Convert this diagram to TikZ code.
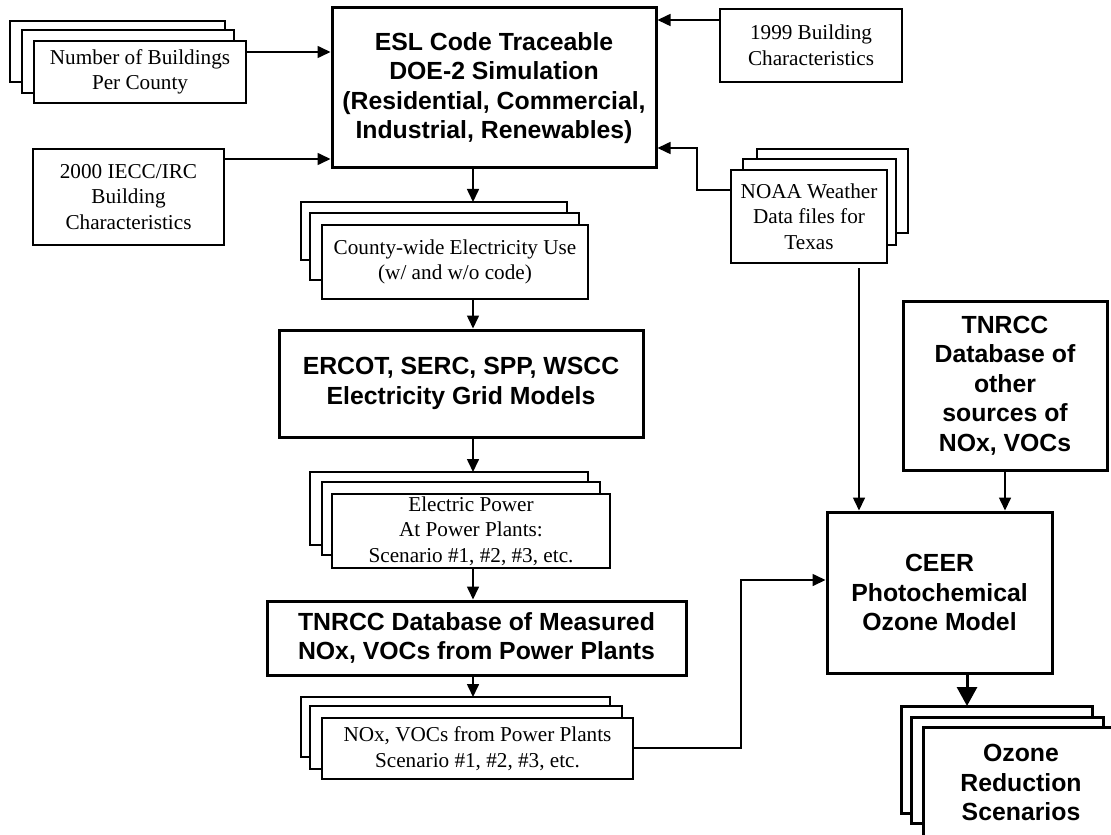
\documentclass[tikz,border=0pt]{standalone}
\usepackage{fontspec}
\setmainfont{Liberation Serif}
\setsansfont{Liberation Sans}
\usetikzlibrary{arrows.meta}

\begin{document}
\begin{tikzpicture}[x=0.5pt,y=-0.5pt,
    box/.style={draw,line width=0.8pt,fill=white,align=center,inner sep=0pt,
        font=\fontsize{10.6}{12.8}\selectfont},
    bigbox/.style={draw,line width=1.5pt,fill=white,align=center,inner sep=0pt,
        font=\sffamily\bfseries\fontsize{12.4}{14.8}\selectfont},
    card/.style={draw,line width=0.8pt,fill=white},
    bigcard/.style={draw,line width=1.5pt,fill=white},
    arr/.style={line width=0.8pt,-{Triangle[length=6.5pt,width=6pt]}},
    bigarr/.style={line width=1.5pt,-{Triangle[length=9.5pt,width=10pt]}}]
    \useasboundingbox (0,0) rectangle (1111,834);

    % stacked copies behind the front boxes
    \draw[card] (10,21) rectangle (225,82);
    \draw[card] (22,30) rectangle (234,93);
    \draw[card] (757,149) rectangle (908,233);
    \draw[card] (743,159) rectangle (896,245);
    \draw[card] (301,202) rectangle (567,260);
    \draw[card] (310,213) rectangle (579,280);
    \draw[card] (310,472) rectangle (588,545);
    \draw[card] (322,482) rectangle (600,555);
    \draw[card] (301,697) rectangle (610,757);
    \draw[card] (310,706) rectangle (622,769);
    \draw[bigcard] (901,706) rectangle (1092,813);
    \draw[bigcard] (911,717) rectangle (1103,823);

    \node[bigbox,minimum width=162pt,minimum height=80pt] (esl) at (494,88)
        {ESL Code Traceable\\DOE-2 Simulation\\(Residential, Commercial,\\Industrial, Renewables)};
    \node[box,minimum width=106pt,minimum height=31pt] (num) at (140,72)
        {Number of Buildings\\Per County};
    \node[box,minimum width=95.5pt,minimum height=48pt] (iecc) at (128.5,197)
        {2000 IECC/IRC\\Building\\Characteristics};
    \node[box,minimum width=91pt,minimum height=36.5pt] (bld) at (811,45.5)
        {1999 Building\\Characteristics};
    \node[box,minimum width=78pt,minimum height=46.5pt] (noaa) at (809,216.5)
        {NOAA Weather\\Data files for\\Texas};
    \node[box,minimum width=133pt,minimum height=37pt] (county) at (455,262)
        {County-wide Electricity Use\\(w/ and w/o code)};
    \node[bigbox,minimum width=182pt,minimum height=53.5pt] (ercot) at (461,383.5)
        {ERCOT, SERC, SPP, WSCC\\Electricity Grid Models};
    \node[box,minimum width=139pt,minimum height=37pt] (elec) at (471,531)
        {Electric Power\\At Power Plants:\\Scenario \#1, \#2, \#3, etc.};
    \node[bigbox,minimum width=209.5pt,minimum height=37pt] (tnrcc) at (476.5,638)
        {TNRCC Database of Measured\\NOx, VOCs from Power Plants};
    \node[box,minimum width=155.5pt,minimum height=30.5pt] (nox) at (477.5,748.5)
        {NOx, VOCs from Power Plants\\Scenario \#1, \#2, \#3, etc.};
    \node[bigbox,minimum width=102pt,minimum height=84.5pt] (other) at (1005,385.5)
        {TNRCC\\Database of\\other\\sources of\\NOx, VOCs};
    \node[bigbox,minimum width=112.5pt,minimum height=80.5pt] (ceer) at (939.5,592.5)
        {CEER\\Photochemical\\Ozone Model};
    \node[bigbox,minimum width=98pt,minimum height=55.5pt] (ozone) at (1021,782.5)
        {Ozone\\Reduction\\Scenarios};

    % inputs to the simulation
    \draw[arr] (num.east |- 0,52) -- (esl.west |- 0,52);
    \draw[arr] (iecc.east |- 0,159) -- (esl.west |- 0,159);
    \draw[arr] (bld.west |- 0,20) -- (esl.east |- 0,20);
    \draw[arr] (noaa.west |- 0,190) -| (697,148) -- (esl.east |- 0,148);

    % main chain
    \draw[arr] (esl.south -| 473,0) -- (473,202);
    \draw[arr] (county.south -| 473,0) -- (ercot.north -| 473,0);
    \draw[arr] (ercot.south -| 473,0) -- (473,472);
    \draw[arr] (elec.south -| 473,0) -- (tnrcc.north -| 473,0);
    \draw[arr] (tnrcc.south -| 473,0) -- (473,697);

    % into the ozone model
    \coordinate (wx) at (859,268);
    \draw[arr] (wx) -- (ceer.north -| wx);
    \draw[arr] (other.south) -- (other.south |- ceer.north);
    \draw[arr] (nox.east |- 0,748) -| (741,580) -- (ceer.west |- 0,580);
    \draw[bigarr] (ceer.south -| 967,0) -- (967,706);
\end{tikzpicture}
\end{document}
